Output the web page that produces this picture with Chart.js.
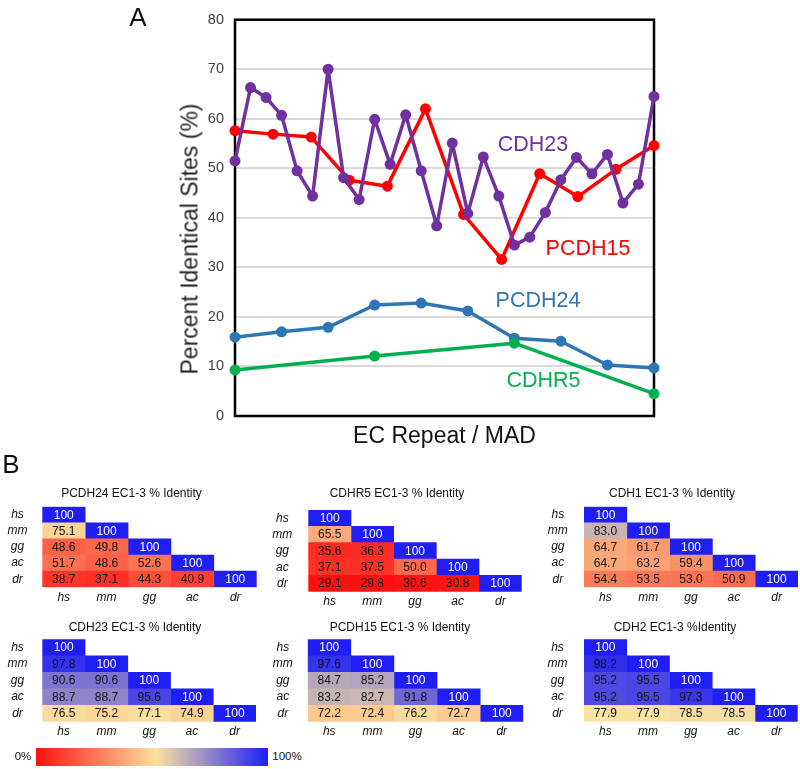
<!DOCTYPE html>
<html>
<head>
<meta charset="utf-8">
<script src="https://cdn.jsdelivr.net/npm/chart.js@4.4.1/dist/chart.umd.min.js"></script>
<style>
  html, body { margin: 0; padding: 0; background: #fff; }
  body { width: 800px; height: 769px; position: relative; overflow: hidden; font-family: "Liberation Sans", Arial, sans-serif; color: #111; }
  canvas { position: absolute; }
  .txt { position: absolute; white-space: nowrap; line-height: 1; transform: translate(-50%, -50%); }
  .colorbar { position: absolute; left: 36px; top: 748px; width: 232px; height: 18px;
    background: linear-gradient(to right, rgb(255,16,16), rgb(250,226,160) 52%, rgb(30,30,245)); }
</style>
</head>
<body>
<canvas id="lineChart" width="800" height="450" style="left:0;top:0"></canvas>

<div class="txt" style="left:138px;top:17px;font-size:26px;">A</div>
<div class="txt" style="left:11px;top:464px;font-size:26px;">B</div>
<div class="txt" style="left:190px;top:238.5px;font-size:23px;color:#222;transform:translate(-50%,-50%) rotate(-90deg);">Percent Identical Sites (%)</div>

<div class="txt" style="left:533px;top:145px;font-size:21.5px;color:#7030A0;">CDH23</div>
<div class="txt" style="left:588px;top:248.5px;font-size:21.5px;color:#FF0000;">PCDH15</div>
<div class="txt" style="left:538px;top:301px;font-size:21.5px;color:#2E75B6;">PCDH24</div>
<div class="txt" style="left:543.5px;top:381px;font-size:21.5px;color:#00B050;">CDHR5</div>

<div class="colorbar"></div>
<div class="txt" style="left:23px;top:757px;font-size:11.5px;">0%</div>
<div class="txt" style="left:287px;top:757px;font-size:11.5px;">100%</div>

<script>
//------------------Data------------------
// panel A: percent identical sites along each EC repeat / MAD
const cdh23 = [51.5, 66.3, 64.3, 60.7, 49.5, 44.4, 70.0, 48.1, 43.7, 59.9, 50.8, 60.8, 49.5, 38.4,
  55.1, 40.9, 52.3, 44.4, 34.5, 36.1, 41.1, 47.7, 52.2, 48.9, 52.8, 43.0, 46.8, 64.5];
const pcdh15 = [57.6, 56.9, 56.3, 47.6, 46.4, 62.0, 40.7, 31.6, 48.9, 44.3, 49.8, 54.6];
const pcdh24 = [15.9, 17.0, 17.9, 22.4, 22.8, 21.2, 15.7, 15.1, 10.3, 9.7];
const cdhr5 = [9.3, 12.1, 14.7, 4.5];
const yTicks = [0, 10, 20, 30, 40, 50, 60, 70, 80];

// panel B: EC1-3 % identity, lower triangle, rows/cols hs mm gg ac dr
const species = ['hs', 'mm', 'gg', 'ac', 'dr'];
const pcdh24Id = [[100], [75.1, 100], [48.6, 49.8, 100], [51.7, 48.6, 52.6, 100], [38.7, 37.1, 44.3, 40.9, 100]];
const cdhr5Id = [[100], [65.5, 100], [35.6, 36.3, 100], [37.1, 37.5, 50.0, 100], [29.1, 29.8, 30.6, 30.8, 100]];
const cdh1Id = [[100], [83.0, 100], [64.7, 61.7, 100], [64.7, 63.2, 59.4, 100], [54.4, 53.5, 53.0, 50.9, 100]];
const cdh23Id = [[100], [97.8, 100], [90.6, 90.6, 100], [88.7, 88.7, 95.6, 100], [76.5, 75.2, 77.1, 74.9, 100]];
const pcdh15Id = [[100], [97.6, 100], [84.7, 85.2, 100], [83.2, 82.7, 91.8, 100], [72.2, 72.4, 76.2, 72.7, 100]];
const cdh2Id = [[100], [98.2, 100], [95.2, 95.5, 100], [95.2, 95.5, 97.3, 100], [77.9, 77.9, 78.5, 78.5, 100]];

const fam = '"Liberation Sans", Arial, sans-serif';
Chart.defaults.font.family = fam;

//------------------Panel A line chart------------------
const series = (label, values, color) => ({
  label,
  data: values.map((v, i) => ({ x: i / (values.length - 1), y: v })),
  borderColor: color,
  backgroundColor: color,
  pointBackgroundColor: color,
  borderWidth: 3.5,
  borderJoinStyle: 'round',
  pointRadius: 5.5,
  pointBorderWidth: 0,
  tension: 0,
  clip: false,
});

// black frame round the plot area (under the lines)
const boxBorder = {
  id: 'boxBorder',
  beforeDatasetsDraw(chart) {
    const { ctx, chartArea: a } = chart;
    ctx.save();
    ctx.strokeStyle = '#000';
    ctx.lineWidth = 2.5;
    ctx.strokeRect(a.left, a.top, a.right - a.left, a.bottom - a.top);
    ctx.restore();
  },
};

new Chart(document.getElementById('lineChart'), {
  type: 'line',
  data: {
    datasets: [
      series('CDH23', cdh23, '#7030A0'),
      series('PCDH15', pcdh15, '#FF0000'),
      series('CDHR5', cdhr5, '#00B050'),
      series('PCDH24', pcdh24, '#2E75B6'),
    ],
  },
  options: {
    responsive: false,
    animation: false,
    layout: { padding: { left: 176, right: 146, top: 13, bottom: 0 } },
    plugins: { legend: { display: false }, tooltip: { enabled: false } },
    scales: {
      x: {
        type: 'linear', min: 0, max: 1,
        ticks: { display: false },
        grid: { display: false, drawTicks: false },
        border: { display: false },
        title: { display: true, text: 'EC Repeat / MAD', color: '#111', font: { size: 23 }, padding: 0 },
        afterFit: (s) => { s.height = 34; },
      },
      y: {
        min: 0, max: 80,
        afterBuildTicks: (s) => { s.ticks = yTicks.map((v) => ({ value: v })); },
        ticks: { padding: 11, color: '#404040', font: { size: 14.5 } },
        grid: { color: '#d9d9d9', lineWidth: 2, drawTicks: false },
        border: { display: false },
        afterFit: (s) => { s.width = 59; },
      },
    },
  },
  plugins: [boxBorder],
});

//------------------Panel B heatmaps------------------
const colorStops = [[30, [255, 16, 16]], [78, [250, 226, 160]], [100, [30, 30, 245]]];
const heatColor = (v) => {
  let k = 1;
  while (k < colorStops.length - 1 && v > colorStops[k][0]) k++;
  const [v0, c0] = colorStops[k - 1];
  const [v1, c1] = colorStops[k];
  const t = Math.min(1, Math.max(0, (v - v0) / (v1 - v0)));
  return 'rgb(' + c0.map((c, n) => Math.round(c + (c1[n] - c) * t)).join(',') + ')';
};

const cellText = {
  id: 'cellText',
  afterDatasetsDraw(chart, args, opts) {
    const { ctx } = chart;
    ctx.save();
    ctx.font = '12px ' + fam;
    ctx.textAlign = 'center';
    ctx.textBaseline = 'middle';
    chart.data.datasets.forEach((ds, j) => {
      chart.getDatasetMeta(j).data.forEach((bar, i) => {
        if (ds.data[i] === null) return;
        const v = opts.values[i][j];
        const { x, y } = bar.getCenterPoint();
        ctx.fillStyle = v === 100 ? '#fff' : '#111';
        ctx.fillText(v === 100 ? '100' : v.toFixed(1), x, y + 0.5);
      });
    });
    ctx.restore();
  },
};

const heatBoxes = [
  { title: 'PCDH24 EC1-3 % Identity', values: pcdh24Id, titleX: 131.5, titleY: 492.7, cellL: 42.3, cellR: 256.7, cellT: 506.7, cellB: 587.3, rowLabX: 17.5, colLabY: 597.7 },
  { title: 'CDHR5 EC1-3 % Identity', values: cdhr5Id, titleX: 397, titleY: 492.7, cellL: 308.3, cellR: 521.7, cellT: 510, cellB: 591.7, rowLabX: 282.3, colLabY: 601.7 },
  { title: 'CDH1 EC1-3 % Identity', values: cdh1Id, titleX: 672, titleY: 492.7, cellL: 584, cellR: 798, cellT: 506.7, cellB: 587.3, rowLabX: 557.8, colLabY: 597.7 },
  { title: 'CDH23 EC1-3 % Identity', values: cdh23Id, titleX: 135, titleY: 626.7, cellL: 42.3, cellR: 256, cellT: 639.3, cellB: 721.7, rowLabX: 17.5, colLabY: 731.5 },
  { title: 'PCDH15 EC1-3 % Identity', values: pcdh15Id, titleX: 400, titleY: 626.7, cellL: 307.7, cellR: 523.3, cellT: 639.3, cellB: 721.7, rowLabX: 282.8, colLabY: 731.5 },
  { title: 'CDH2 EC1-3 %Identity', values: cdh2Id, titleX: 675, titleY: 626.7, cellL: 584, cellR: 797.7, cellT: 639.3, cellB: 721.7, rowLabX: 557.5, colLabY: 731.5 },
];

const makeHeat = (b) => {
  const L = Math.floor(b.rowLabX - 16);
  const R = Math.ceil(b.cellR);
  const T = Math.floor(b.titleY - 12);
  const B = Math.ceil(b.colLabY + 16);
  const canvas = document.createElement('canvas');
  canvas.width = R - L;
  canvas.height = B - T;
  canvas.style.left = L + 'px';
  canvas.style.top = T + 'px';
  document.body.appendChild(canvas);

  // heading sits centred over the whole block, not over the cells
  const head = document.createElement('div');
  head.className = 'txt';
  head.style.cssText = `left:${b.titleX}px;top:${b.titleY}px;font-size:12px;`;
  head.textContent = b.title;
  document.body.appendChild(head);

  const yW = b.cellL - L;
  const labelFont = { size: 12, style: 'italic' };

  const datasets = species.map((sp, j) => ({
    label: sp,
    data: species.map((_, i) => (i >= j ? [j - 0.5, j + 0.5] : null)),
    backgroundColor: species.map((_, i) => (i >= j ? heatColor(b.values[i][j]) : 'transparent')),
    borderWidth: 0,
    grouped: false,
    barPercentage: 1,
    categoryPercentage: 1,
  }));

  new Chart(canvas, {
    type: 'bar',
    data: { labels: species, datasets },
    options: {
      indexAxis: 'y',
      responsive: false,
      animation: false,
      layout: { padding: { left: 0, right: R - b.cellR, top: b.cellT - T, bottom: 0 } },
      plugins: {
        legend: { display: false },
        tooltip: { enabled: false },
        cellText: { values: b.values },
      },
      scales: {
        y: {
          type: 'category', offset: true,
          grid: { display: false, drawTicks: false },
          border: { display: false },
          ticks: { crossAlign: 'center', autoSkip: false, padding: b.cellL - b.rowLabX - 10, color: '#111', font: labelFont },
          afterFit: (s) => { s.width = yW; },
        },
        x: {
          type: 'linear', min: -0.5, max: 4.5,
          grid: { display: false, drawTicks: false },
          border: { display: false },
          afterBuildTicks: (s) => { s.ticks = species.map((_, j) => ({ value: j })); },
          ticks: {
            callback: (v) => species[v],
            padding: b.colLabY - b.cellB - 7.2,
            maxRotation: 0, autoSkip: false,
            color: '#111', font: labelFont,
          },
          afterFit: (s) => { s.height = B - b.cellB; },
        },
      },
    },
    plugins: [cellText],
  });
};

heatBoxes.forEach(makeHeat);
</script>
</body>
</html>
